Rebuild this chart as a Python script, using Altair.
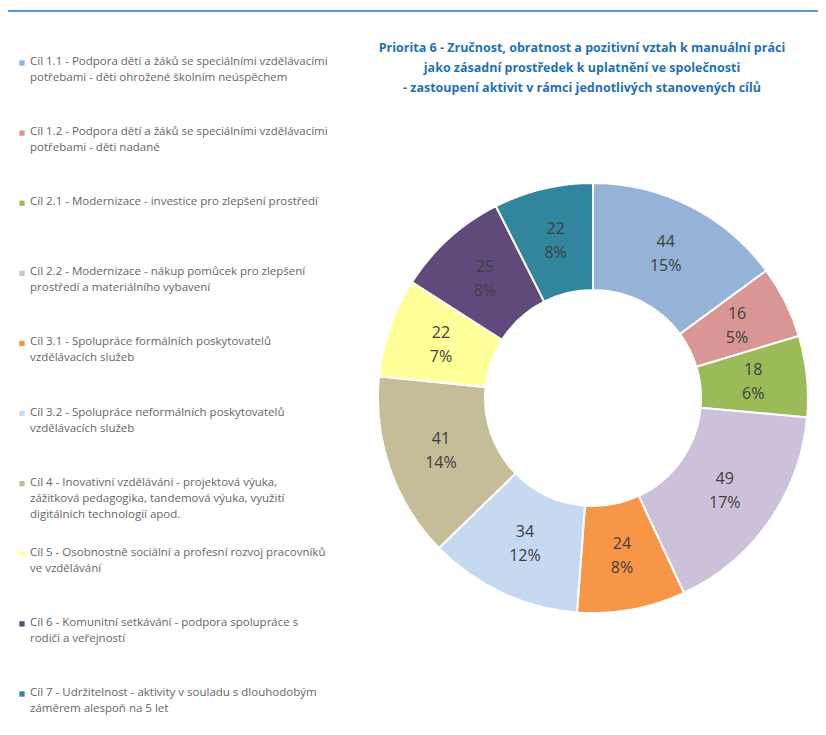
import altair as alt
import pandas as pd

cats = ["Cíl 1.1", "Cíl 1.2", "Cíl 2.1", "Cíl 2.2", "Cíl 3.1",
        "Cíl 3.2", "Cíl 4", "Cíl 5", "Cíl 6", "Cíl 7"]
labels = [
    "Cíl 1.1 - Podpora dětí a žáků se speciálními vzdělávacími\npotřebami - děti ohrožené školním neúspěchem",
    "Cíl 1.2 - Podpora dětí a žáků se speciálními vzdělávacími\npotřebami - děti nadané",
    "Cíl 2.1 - Modernizace - investice pro zlepšení prostředí",
    "Cíl 2.2 - Modernizace - nákup pomůcek pro zlepšení\nprostředí a materiálního vybavení",
    "Cíl 3.1 - Spolupráce formálních poskytovatelů\nvzdělávacích služeb",
    "Cíl 3.2 - Spolupráce neformálních poskytovatelů\nvzdělávacích služeb",
    "Cíl 4 - Inovativní vzdělávání - projektová výuka,\nzážitková pedagogika, tandemová výuka, využití\ndigitálních technologií apod.",
    "Cíl 5 - Osobnostně sociální a profesní rozvoj pracovníků\nve vzdělávání",
    "Cíl 6 - Komunitní setkávání - podpora spolupráce s\nrodiči a veřejností",
    "Cíl 7 - Udržitelnost - aktivity v souladu s dlouhodobým\nzáměrem alespoň na 5 let",
]
values = [44, 16, 18, 49, 24, 34, 41, 22, 25, 22]
percents = [15, 5, 6, 17, 8, 12, 14, 7, 8, 8]
colors = ["#95B3D7", "#DA9694", "#9BBB59", "#CCC0DA", "#F79646",
          "#C5D9F1", "#C4BD97", "#FFFF99", "#604A7B", "#31859C"]
title_lines = [
    "Priorita 6 - Zručnost, obratnost a pozitivní vztah k manuální práci",
    "jako zásadní prostředek k uplatnění ve společnosti",
    "- zastoupení aktivit v rámci jednotlivých stanovených cílů",
]

df = pd.DataFrame({"cat": cats, "label": labels, "value": values,
                   "pct": percents, "idx": list(range(len(cats)))})
df["slice_text"] = df["value"].astype(str) + "\n" + df["pct"].astype(str) + "%"
title_df = pd.DataFrame({"t": ["\n".join(title_lines)]})

W, H = 810, 719
CX, CY = 585, 390
R_OUT, R_IN = 215, 108
FONT = "Open Sans, sans-serif"

color = alt.Color("cat:N", scale=alt.Scale(domain=cats, range=colors), legend=None)
ly = alt.Y("idx:Q", scale=alt.Scale(domain=[0, 9], range=[55, 686]), axis=None)

base = alt.Chart(df)
arcs = base.mark_arc(outerRadius=R_OUT, innerRadius=R_IN, stroke="white", strokeWidth=2).encode(
    theta=alt.Theta("value:Q", stack=True),
    order=alt.Order("idx:Q"),
    color=color,
    x=alt.value(CX), y=alt.value(CY),
)
slice_labels = base.mark_text(radius=161, fontSize=16, lineBreak="\n", lineHeight=24, dy=-12,
                              color="#404040", font=FONT, baseline="middle").encode(
    theta=alt.Theta("value:Q", stack=True),
    order=alt.Order("idx:Q"),
    text="slice_text:N",
    x=alt.value(CX), y=alt.value(CY),
)
legend_sq = base.mark_square(size=28, opacity=1).encode(
    x=alt.value(14), y=ly, color=color,
)
legend_txt = base.mark_text(align="left", baseline="top", dy=-7, fontSize=11.5, lineHeight=16,
                            lineBreak="\n", color="#666666", font=FONT).encode(
    x=alt.value(22), y=ly, text="label:N",
)
title = alt.Chart(title_df).mark_text(align="center", baseline="top", fontSize=12.5, fontWeight="bold",
                                      color="#1F6FB8", lineBreak="\n", lineHeight=20, font=FONT).encode(
    x=alt.value(574), y=alt.value(34), text="t:N",
)
top_line = alt.Chart(title_df).mark_rule(color="#5B9BD5", strokeWidth=2).encode(
    x=alt.value(0), x2=alt.value(W), y=alt.value(3),
)

chart = alt.layer(top_line, arcs, slice_labels, legend_sq, legend_txt, title).properties(
    width=W, height=H, padding=0, autosize=alt.AutoSizeParams(type="none"),
).configure_view(stroke=None)

chart.save("out.html", embed_options={"renderer": "svg", "actions": False})
